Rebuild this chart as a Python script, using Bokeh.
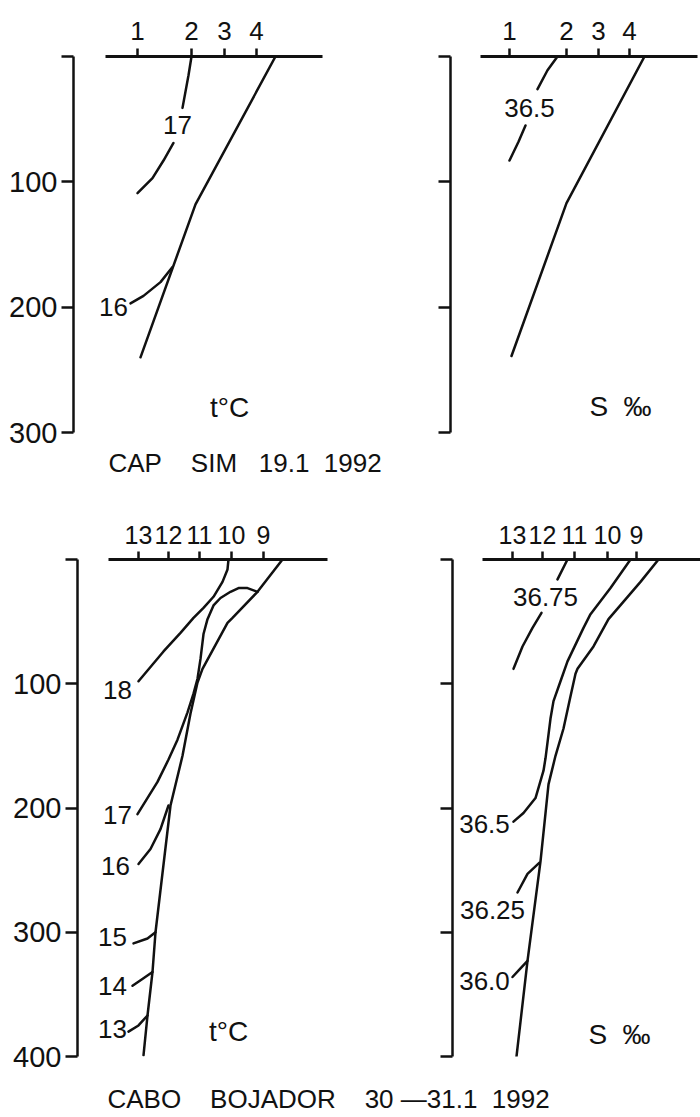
from bokeh.plotting import figure
from bokeh.models import Range1d, FixedTicker
from bokeh.layouts import column, row
from bokeh.embed import file_html
from bokeh.resources import INLINE
from bokeh.core.properties import value

FONT = "Liberation Sans, Arial, sans-serif"
INK = "#111111"
NB = "\u00a0"

# ---------------- CAP SIM 19.1 1992 (x: distance along section, arbitrary units; y: depth, m) ----
cs_depth_ticks = [0, 100, 200, 300]

cs_t_stations = [64, 118, 151, 183]
cs_t_station_names = ["1", "2", "3", "4"]
cs_t_section = (32, 249)
cs_t_profile_x = [202, 122, 67]
cs_t_profile_d = [0, 118, 240]
cs_t17a_x = [118, 115, 109]
cs_t17a_d = [0, 15, 41]
cs_t17b_x = [100, 90, 79, 64]
cs_t17b_d = [69, 83, 97, 109]
cs_t16_x = [99, 87, 70, 57]
cs_t16_d = [168, 180, 191, 197]
cs_t_labels = ["17", "16"]
cs_t_label_x = [104, 40]
cs_t_label_d = [55, 200]

cs_s_stations = [59, 116, 148, 179]
cs_s_station_names = ["1", "2", "3", "4"]
cs_s_section = (30, 247)
cs_s_profile_x = [194, 116, 61]
cs_s_profile_d = [0, 117, 239]
cs_s365a_x = [107, 97, 87]
cs_s365a_d = [0, 11, 26]
cs_s365b_x = [75, 68, 59]
cs_s365b_d = [55, 68, 83]
cs_s_labels = ["36.5"]
cs_s_label_x = [79]
cs_s_label_d = [41]

# ---------------- CABO BOJADOR 30-31.1 1992 ----------------
cb_depth_ticks = [0, 100, 200, 300, 400]

cb_t_stations = [61, 91, 122, 154, 186]
cb_t_station_names = ["13", "12", "11", "10", "9"]
cb_t_section = (31, 250)
cb_t_profile_x = [205, 180, 155, 150, 125, 120, 113, 105, 93, 78, 75, 70, 66]
cb_t_profile_d = [0, 26, 47, 51, 88, 99, 124, 158, 198, 300, 332, 367, 399]
cb_t18_x = [151, 150, 145, 136, 126, 116, 103, 86, 61]
cb_t18_d = [0, 8, 18, 30, 39, 47, 59, 74, 98]
cb_t17_x = [180, 170, 161, 153, 143, 136, 130, 126, 123, 120, 116, 110, 100, 91, 80, 60]
cb_t17_d = [26, 23, 23, 26, 31, 37, 48, 60, 80, 96, 108, 123, 145, 161, 179, 205]
cb_t16_x = [61, 73, 83, 91]
cb_t16_d = [245, 233, 217, 198]
cb_t15_x = [56, 70, 78]
cb_t15_d = [309, 305, 300]
cb_t14_x = [55, 66, 75]
cb_t14_d = [343, 337, 332]
cb_t13_x = [51, 61, 70]
cb_t13_d = [380, 375, 367]
cb_t_labels = ["18", "17", "16", "15", "14", "13"]
cb_t_label_x = [40, 40, 38, 35, 35, 35]
cb_t_label_d = [105, 206, 247, 304, 343, 378]

cb_s_stations = [60, 90, 122, 155, 184]
cb_s_station_names = ["13", "12", "11", "10", "9"]
cb_s_section = (30, 248)
cb_s_profile_x = [206, 188, 156, 141, 125, 123, 118, 111, 103, 96, 88, 75, 64]
cb_s_profile_d = [0, 18, 48, 70, 88, 92, 110, 136, 158, 181, 243, 323, 400]
cb_s365_x = [178, 158, 138, 131, 115, 108, 101, 98, 96, 93, 91, 83, 71, 61]
cb_s365_d = [0, 23, 44, 55, 82, 98, 114, 128, 141, 160, 170, 192, 204, 211]
cb_s3675a_x = [115, 105]
cb_s3675a_d = [0, 16]
cb_s3675b_x = [89, 80, 70, 61]
cb_s3675b_d = [43, 55, 70, 88]
cb_s3625_x = [87, 75, 65]
cb_s3625_d = [244, 253, 268]
cb_s360_x = [75, 68, 60]
cb_s360_d = [323, 329, 336]
cb_s_labels = ["36.75", "36.5", "36.25", "36.0"]
cb_s_label_x = [93, 32, 40, 32]
cb_s_label_d = [30, 213, 282, 339]

unit_t = "t°C"
unit_s = "S" + NB + NB + "‰"
title_top = "CAP" + NB * 4 + "SIM" + NB * 3 + "19.1" + NB * 2 + "1992"
title_bottom = "CABO" + NB * 4 + "BOJADOR" + NB * 4 + "30" + NB + "—31.1" + NB * 2 + "1992"


def panel(width, height, b_left, b_top, b_bottom, x_end, y_end, depth_ticks, stations,
          names, section, depth_labels, xs, ys, lab, lab_x, lab_d, unit, unit_x, unit_d,
          tick_standoff, tick_font):
    p = figure(width=width, height=height, x_range=Range1d(0, x_end),
               y_range=Range1d(y_end, 0), x_axis_location="above",
               toolbar_location=None, output_backend="svg",
               min_border_left=b_left, min_border_top=b_top,
               min_border_bottom=b_bottom, min_border_right=0)
    p.grid.visible = False
    p.outline_line_color = None
    p.background_fill_color = "white"
    p.border_fill_color = "white"

    xa = p.xaxis[0]
    xa.ticker = FixedTicker(ticks=stations)
    xa.major_label_overrides = {s: n for s, n in zip(stations, names)}
    xa.bounds = section
    xa.axis_line_width = 3
    xa.axis_line_color = INK
    xa.major_tick_out = 8
    xa.major_tick_in = 0
    xa.major_tick_line_width = 2.5
    xa.major_tick_line_color = INK
    xa.minor_tick_out = 0
    xa.minor_tick_in = 0
    xa.major_label_text_font = FONT
    xa.major_label_text_font_size = tick_font
    xa.major_label_text_color = INK
    xa.major_label_standoff = tick_standoff

    ya = p.yaxis[0]
    ya.ticker = FixedTicker(ticks=depth_ticks)
    ya.bounds = (depth_ticks[0], depth_ticks[-1])
    if depth_labels:
        ya.major_label_overrides = {depth_ticks[0]: ""}
    else:
        ya.major_label_overrides = {t: "" for t in depth_ticks}
    ya.axis_line_width = 2.5
    ya.axis_line_color = INK
    ya.major_tick_out = 12
    ya.major_tick_in = 0
    ya.major_tick_line_width = 2.5
    ya.major_tick_line_color = INK
    ya.minor_tick_out = 0
    ya.minor_tick_in = 0
    ya.major_label_text_font = FONT
    ya.major_label_text_font_size = "29px"
    ya.major_label_text_color = INK
    ya.major_label_standoff = 4

    p.multi_line(xs=xs, ys=ys, line_color=INK, line_width=2.5,
                 line_cap="round", line_join="round")
    p.text(x=lab_x, y=lab_d, text=lab, text_font=value(FONT), text_font_size="26px",
           text_align="center", text_baseline="middle", text_color=INK)
    p.text(x=[unit_x], y=[unit_d], text=[unit], text_font=value(FONT),
           text_font_size="28px", text_align="center", text_baseline="middle",
           text_color=INK)
    return p


# top row: frame top at 56 px, 300 m = 376 px; frame continues below to hold the title
TOP_H = 490
top_scale = 376 / 300
top_y_end = (TOP_H - 56) / top_scale

p1 = panel(395, TOP_H, 73, 56, 0, 322, top_y_end, cs_depth_ticks, cs_t_stations,
           cs_t_station_names, cs_t_section, True,
           [cs_t_profile_x, cs_t17a_x, cs_t17b_x, cs_t16_x],
           [cs_t_profile_d, cs_t17a_d, cs_t17b_d, cs_t16_d],
           cs_t_labels, cs_t_label_x, cs_t_label_d, unit_t, 156, 280, 9, "26px")
p1.text(x=[35], y=[(462 - 56) / top_scale], text=[title_top], text_font=value(FONT),
        text_font_size="26px", text_align="left", text_baseline="middle", text_color=INK)

p2 = panel(305, TOP_H, 55, 56, 0, 250, top_y_end, cs_depth_ticks, cs_s_stations,
           cs_s_station_names, cs_s_section, False,
           [cs_s_profile_x, cs_s365a_x, cs_s365b_x],
           [cs_s_profile_d, cs_s365a_d, cs_s365b_d],
           cs_s_labels, cs_s_label_x, cs_s_label_d, unit_s, 170, 279, 9, "26px")

p3 = panel(400, 588, 77, 69, 22, 323, 400, cb_depth_ticks, cb_t_stations,
           cb_t_station_names, cb_t_section, True,
           [cb_t_profile_x, cb_t18_x, cb_t17_x, cb_t16_x, cb_t15_x, cb_t14_x, cb_t13_x],
           [cb_t_profile_d, cb_t18_d, cb_t17_d, cb_t16_d, cb_t15_d, cb_t14_d, cb_t13_d],
           cb_t_labels, cb_t_label_x, cb_t_label_d, unit_t, 151, 380, 8, "25px")
p4 = panel(300, 588, 52, 69, 22, 248, 400, cb_depth_ticks, cb_s_stations,
           cb_s_station_names, cb_s_section, False,
           [cb_s_profile_x, cb_s365_x, cb_s3675a_x, cb_s3675b_x, cb_s3625_x, cb_s360_x],
           [cb_s_profile_d, cb_s365_d, cb_s3675a_d, cb_s3675b_d, cb_s3625_d, cb_s360_d],
           cb_s_labels, cb_s_label_x, cb_s_label_d, unit_s, 167, 382, 8, "25px")

t2 = figure(width=700, height=39, x_range=Range1d(0, 700), y_range=Range1d(0, 39),
            toolbar_location=None, output_backend="svg", min_border=0)
t2.axis.visible = False
t2.grid.visible = False
t2.outline_line_color = None
t2.text(x=[107], y=[19], text=[title_bottom], text_font=value(FONT), text_font_size="26px",
        text_align="left", text_baseline="middle", text_color=INK)

layout = column(row(p1, p2), row(p3, p4), t2)
open("out.html", "w").write(file_html(layout, INLINE))
